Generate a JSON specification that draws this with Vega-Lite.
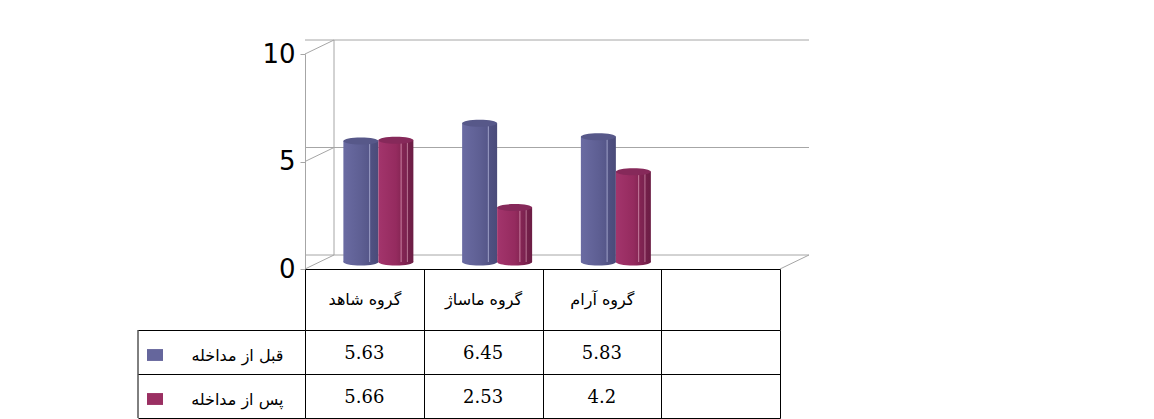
{
  "$schema": "https://vega.github.io/schema/vega-lite/v6.json",
  "background": "white",
  "padding": {"left": 137, "top": 39, "right": 10, "bottom": 0},
  "datasets": {
    "scores": [
      {"group": "گروه شاهد", "series": "قبل از مداخله", "value": 5.63},
      {"group": "گروه شاهد", "series": "پس از مداخله", "value": 5.66},
      {"group": "گروه ماساژ", "series": "قبل از مداخله", "value": 6.45},
      {"group": "گروه ماساژ", "series": "پس از مداخله", "value": 2.53},
      {"group": "گروه آرام", "series": "قبل از مداخله", "value": 5.83},
      {"group": "گروه آرام", "series": "پس از مداخله", "value": 4.2}
    ],
    "ticks": [{"v": 0}, {"v": 5}, {"v": 10}],
    "one": [{"k": 1}]
  },
  "vconcat": [
    {
      "width": 475,
      "height": 215,
      "layer": [
        {
          "data": {"name": "ticks"},
          "mark": {"type": "rule", "color": "#a6a6a6", "strokeWidth": 1, "xOffset": 29, "yOffset": -14},
          "encoding": {
            "y": {"field": "v", "type": "quantitative", "scale": {"domain": [0, 10], "nice": false},
              "axis": {"values": [0, 5, 10], "grid": false, "domainColor": "#a6a6a6", "tickColor": "#a6a6a6", "tickSize": 5, "labelFont": "DejaVu Sans", "labelFontSize": 26, "labelColor": "#000", "labelPadding": 5, "title": null}}
          }
        },
        {
          "data": {"name": "ticks"},
          "mark": {"type": "rule", "color": "#a6a6a6", "strokeWidth": 1, "x2Offset": 29, "y2Offset": -14},
          "encoding": {
            "x": {"datum": "گروه شاهد", "type": "nominal", "bandPosition": 0},
            "x2": {"datum": "گروه شاهد", "bandPosition": 0},
            "y": {"field": "v", "type": "quantitative"},
            "y2": {"field": "v"}
          }
        },
        {
          "data": {"name": "one"},
          "mark": {"type": "rule", "color": "#a6a6a6", "strokeWidth": 1, "xOffset": 29, "x2Offset": 29, "yOffset": -14, "y2Offset": -14},
          "encoding": {
            "x": {"datum": "گروه شاهد", "type": "nominal", "bandPosition": 0},
            "y": {"datum": 0, "type": "quantitative"},
            "y2": {"datum": 10}
          }
        },
        {
          "data": {"name": "one"},
          "mark": {"type": "rule", "color": "#a6a6a6", "strokeWidth": 1, "x2Offset": 29, "y2Offset": -14},
          "encoding": {
            "x": {"datum": " ", "type": "nominal", "bandPosition": 1},
            "x2": {"datum": " ", "bandPosition": 1},
            "y": {"datum": 0, "type": "quantitative"},
            "y2": {"datum": 0}
          }
        },
        {
          "data": {"name": "scores"},
          "transform": [{"filter": "datum.series === 'قبل از مداخله'"}],
          "mark": {"type": "point", "filled": true, "shape": "M-1,0 A1,0.2 0 1,1 1,0 A1,0.2 0 1,1 -1,0 Z", "size": 1225, "xOffset": -3.5, "yOffset": -7, "opacity": 1,
            "fill": {"gradient": "linear", "x1": 0, "x2": 1, "y1": 0, "y2": 0,
              "stops": [{"offset": 0, "color": "#6a6ba2"}, {"offset": 0.5, "color": "#5e5f93"}, {"offset": 1, "color": "#4a4b79"}]}},
          "encoding": {
            "x": {"field": "group", "type": "nominal"},
            "y": {"datum": 0, "type": "quantitative"}
          }
        },
        {
          "data": {"name": "scores"},
          "transform": [{"filter": "datum.series === 'پس از مداخله'"}],
          "mark": {"type": "point", "filled": true, "shape": "M-1,0 A1,0.2 0 1,1 1,0 A1,0.2 0 1,1 -1,0 Z", "size": 1225, "xOffset": 31.5, "yOffset": -7, "opacity": 1,
            "fill": {"gradient": "linear", "x1": 0, "x2": 1, "y1": 0, "y2": 0,
              "stops": [{"offset": 0, "color": "#a3356c"}, {"offset": 0.5, "color": "#952b5f"}, {"offset": 1, "color": "#6b1d44"}]}},
          "encoding": {
            "x": {"field": "group", "type": "nominal"},
            "y": {"datum": 0, "type": "quantitative"}
          }
        },
        {
          "data": {"name": "scores"},
          "transform": [{"filter": "datum.series === 'قبل از مداخله'"}],
          "mark": {"type": "bar", "width": 35, "xOffset": -3.5, "yOffset": -7, "y2Offset": -7,
            "color": {"gradient": "linear", "x1": 0, "x2": 1, "y1": 0, "y2": 0,
              "stops": [{"offset": 0, "color": "#6a6ba2"}, {"offset": 0.5, "color": "#5e5f93"}, {"offset": 0.72, "color": "#56578a"}, {"offset": 0.75, "color": "#9a9cc4"}, {"offset": 0.78, "color": "#505182"}, {"offset": 1, "color": "#4a4b79"}]}},
          "encoding": {
            "x": {"field": "group", "type": "nominal", "sort": null,
              "scale": {"domain": ["گروه شاهد", "گروه ماساژ", "گروه آرام", " "], "paddingInner": 0, "paddingOuter": 0},
              "axis": {"labels": false, "ticks": false, "domain": true, "domainColor": "#000", "title": null, "grid": false}},
            "y": {"field": "value", "type": "quantitative"},
            "y2": {"datum": 0}
          }
        },
        {
          "data": {"name": "scores"},
          "transform": [{"filter": "datum.series === 'پس از مداخله'"}],
          "mark": {"type": "bar", "width": 35, "xOffset": 31.5, "yOffset": -7, "y2Offset": -7,
            "color": {"gradient": "linear", "x1": 0, "x2": 1, "y1": 0, "y2": 0,
              "stops": [{"offset": 0, "color": "#a3356c"}, {"offset": 0.5, "color": "#952b5f"}, {"offset": 0.62, "color": "#8a2757"}, {"offset": 0.65, "color": "#c47a9c"}, {"offset": 0.68, "color": "#842553"}, {"offset": 0.8, "color": "#7b2250"}, {"offset": 0.83, "color": "#b5708f"}, {"offset": 0.86, "color": "#741f4a"}, {"offset": 1, "color": "#6b1d44"}]}},
          "encoding": {
            "x": {"field": "group", "type": "nominal"},
            "y": {"field": "value", "type": "quantitative"},
            "y2": {"datum": 0}
          }
        },
        {
          "data": {"name": "scores"},
          "transform": [{"filter": "datum.series === 'قبل از مداخله'"}],
          "mark": {"type": "point", "filled": true, "shape": "M-1,0 A1,0.2 0 1,1 1,0 A1,0.2 0 1,1 -1,0 Z", "size": 1225, "xOffset": -3.5, "yOffset": -7, "color": "#575889", "opacity": 1},
          "encoding": {
            "x": {"field": "group", "type": "nominal"},
            "y": {"field": "value", "type": "quantitative"}
          }
        },
        {
          "data": {"name": "scores"},
          "transform": [{"filter": "datum.series === 'پس از مداخله'"}],
          "mark": {"type": "point", "filled": true, "shape": "M-1,0 A1,0.2 0 1,1 1,0 A1,0.2 0 1,1 -1,0 Z", "size": 1225, "xOffset": 31.5, "yOffset": -7, "color": "#86295a", "opacity": 1},
          "encoding": {
            "x": {"field": "group", "type": "nominal"},
            "y": {"field": "value", "type": "quantitative"}
          }
        }
      ]
    },
    {
      "width": 475,
      "height": 88,
      "data": {"name": "scores"},
      "layer": [
        {
          "mark": {"type": "text", "font": "DejaVu Serif", "fontSize": 18, "color": "#000", "baseline": "middle", "dy": 2},
          "encoding": {
            "x": {"field": "group", "type": "nominal", "sort": null,
              "scale": {"domain": ["گروه شاهد", "گروه ماساژ", "گروه آرام", " "], "paddingInner": 0, "paddingOuter": 0},
              "axis": {"orient": "top", "tickBand": "extent", "tickExtra": true, "grid": true, "gridColor": "#000", "gridOpacity": 1, "tickColor": "#000", "tickSize": 61, "domain": false, "labelFont": "DejaVu Sans", "labelFontSize": 16, "labelColor": "#000", "labelPadding": -30, "labelBaseline": "middle", "labelAngle": 0, "title": null}},
            "y": {"field": "series", "type": "nominal",
              "scale": {"domain": ["قبل از مداخله", "پس از مداخله"], "paddingInner": 0, "paddingOuter": 0},
              "axis": {"orient": "left", "tickBand": "extent", "tickExtra": true, "grid": true, "gridColor": "#000", "gridOpacity": 1, "tickColor": "#000", "tickSize": 167, "domain": false, "labelFont": "DejaVu Sans", "labelFontSize": 16, "labelColor": "#000", "labelPadding": -145, "labelBaseline": "middle", "labelAlign": "right", "labelOffset": 3, "title": null}},
            "text": {"field": "value", "type": "quantitative"}
          }
        },
        {
          "mark": {"type": "point", "filled": true, "opacity": 1, "shape": "M-1,-0.7 H1 V0.7 H-1 Z", "size": 256, "xOffset": -150, "yOffset": 3},
          "encoding": {
            "x": {"datum": "گروه شاهد", "type": "nominal", "bandPosition": 0},
            "y": {"field": "series", "type": "nominal"},
            "color": {"field": "series", "type": "nominal", "legend": null,
              "scale": {"domain": ["قبل از مداخله", "پس از مداخله"], "range": ["#65669c", "#9a2f62"]}}
          }
        },
        {
          "data": {"name": "one"},
          "mark": {"type": "rule", "color": "#000", "xOffset": -167},
          "encoding": {
            "x": {"datum": "گروه شاهد", "type": "nominal", "bandPosition": 0}
          }
        }
      ]
    }
  ],
  "spacing": 61,
  "bounds": "flush",
  "config": {"view": {"stroke": null}}
}
